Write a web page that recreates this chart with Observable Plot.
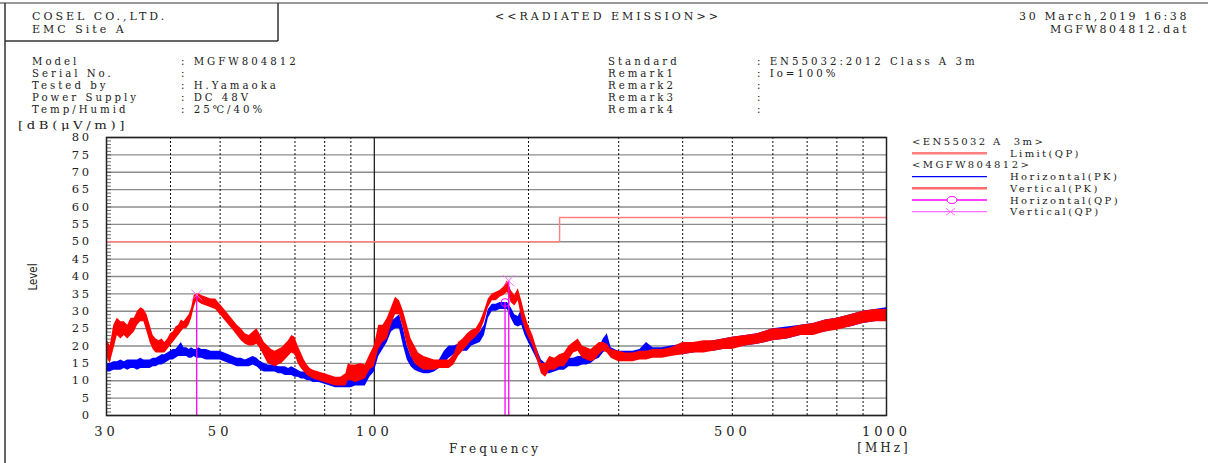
<!DOCTYPE html>
<html><head><meta charset="utf-8">
<script src="https://cdn.jsdelivr.net/npm/d3@7"></script>
<script src="https://cdn.jsdelivr.net/npm/@observablehq/plot@0.6"></script>
<style>
html,body{margin:0;padding:0;background:#fff;}
#chart{position:relative;width:1208px;height:463px;overflow:hidden;}
</style></head><body><div id="chart"></div>
<script>
// ---------- data ----------
const freqMHz = [
  30, 30.5, 31, 31.5, 32, 32.5, 33, 33.5, 34, 34.5,
  35, 35.5, 36, 36.5, 37, 37.5, 38, 38.5, 39, 39.5,
  40, 40.5, 41, 41.5, 42, 42.5, 43, 43.5, 44, 44.5,
  45, 45.5, 46, 47, 48, 49, 50, 51, 52, 53,
  54, 55, 56, 57, 58, 59, 60, 61, 62, 63,
  64, 65, 66, 67, 68, 69, 70, 71, 72, 73,
  74, 75, 76, 78, 80, 82, 84, 86, 88, 89,
  90, 92, 94, 96, 98, 100, 102, 104, 106, 108,
  110, 112, 114, 116, 118, 120, 122, 125, 128, 131,
  134, 137, 140, 143, 146, 149, 152, 155, 158, 161,
  164, 167, 170, 173, 176, 179, 182, 185, 188, 191,
  194, 197, 200, 204, 208, 212, 216, 220, 225, 230,
  235, 240, 245, 250, 255, 260, 265, 270, 275, 280,
  285, 290, 300, 310, 320, 330, 340, 350, 365, 380,
  400, 420, 440, 460, 480, 500, 530, 560, 600, 640,
  680, 720, 760, 800, 850, 900, 950, 1000
];
// Vertical(PK) trace: lower / upper edge of the noisy trace, dB(uV/m)
const vertPkLow = [
  17, 15, 19, 23, 22, 23, 22, 23, 24, 26,
  27, 27, 24, 21, 19, 18, 18, 18, 18, 19,
  20, 21, 22, 23, 24, 25, 25, 26, 28, 31,
  33, 32.5, 32, 31.5, 31, 30.5, 29, 27.5, 26, 24.5,
  23, 21.5, 20.5, 20, 20, 20.5, 19, 17, 15, 14.5,
  14, 14.5, 15, 16, 17, 18, 17.5, 15, 13.5, 12.5,
  11.5, 11, 10.5, 10, 9.5, 9, 8.5, 8.5, 8.5, 10,
  10, 9.5, 10, 10.5, 13, 14, 19, 21, 22, 26,
  29, 29, 25, 20, 17, 15, 14, 13, 13, 13,
  13.5, 13.5, 13.5, 14.5, 17, 18.5, 20, 21.5, 22.5, 24,
  27, 31, 33, 33, 34, 34.5, 35.5, 32.5, 31.5, 33,
  28, 25, 22.5, 20, 16, 12, 11, 13, 13, 14,
  14, 16, 18, 18.5, 16.5, 16, 15.5, 16, 17.5, 18.5,
  18, 16.5, 15.5, 15.5, 15.5, 16, 16, 16.5, 16.5, 17,
  17.5, 18, 18, 18.5, 19, 19, 20, 20.5, 21.5, 22,
  23, 23, 24, 24.5, 25.5, 26.5, 27, 27
];
const vertPkHigh = [
  22, 20, 26, 28, 27, 27, 26, 28, 28, 30,
  31, 30.5, 29, 26, 23, 22, 21.5, 22, 21, 22,
  23.5, 24, 25.5, 26, 27.5, 27, 28, 29, 31, 34.5,
  35, 35, 34.5, 34, 33.5, 33.5, 32, 30.5, 29, 27.5,
  26, 25, 23.5, 23, 24, 25, 23, 21, 20, 19,
  18.5, 19, 19.5, 20.5, 21.5, 23, 22.5, 20, 18, 16,
  14.5, 13.5, 13, 12.5, 12, 11.5, 11, 11, 12, 15,
  14.5, 14.5, 15, 14.5, 17.5, 20, 26, 26, 28, 31,
  34, 33, 30, 26, 22, 20, 18, 17, 16.5, 16,
  16, 16, 16, 17.5, 21, 22, 23.5, 24.5, 25, 27,
  30, 33.5, 35, 35.5, 36, 37, 38.8, 36, 34.5, 36.5,
  33, 29, 26, 23, 19, 15, 15, 17, 16.5, 17.5,
  18, 20, 21, 22, 20, 19.5, 19, 20, 21, 21,
  20.5, 19, 18.5, 18, 18, 18.5, 18.5, 19, 19, 19.5,
  21, 21, 21.5, 21.5, 22, 22.5, 23, 23.5, 25, 25,
  26, 26.5, 27.5, 28, 29, 30, 30.5, 30.5
];
// Horizontal(PK) trace
const horizPkLow = [
  12.5, 12.5, 13, 13, 13, 13.5, 13, 13.5, 13.5, 13,
  13.5, 13.5, 13.5, 13.5, 14, 14, 14.5, 14.5, 15, 15.5,
  16, 16, 16.5, 17, 17, 17, 17, 16.5, 16.5, 17,
  16.5, 16.5, 16.5, 16, 16, 16, 16, 15.5, 15, 14.5,
  14, 14, 14, 14, 14.5, 14, 13, 12.5, 12.5, 12.5,
  12.5, 12, 12, 11.5, 11.5, 11.5, 11, 11, 10.5, 10.5,
  10, 10, 9.5, 9.5, 9, 8.5, 8, 8, 8, 8,
  8, 8.5, 8.5, 8.5, 11, 12.5, 17, 19, 21, 24,
  25, 25, 20, 16, 14, 13, 12.5, 12, 12, 12.5,
  13.5, 15, 16.5, 17.5, 18, 18.5, 18.5, 20, 20.5, 21,
  23, 28, 30, 30, 30.5, 30.5, 30.5, 28, 26, 25.5,
  26, 23, 21, 18.5, 16, 13, 12, 12, 12.5, 13,
  13, 14, 14, 14, 14.5, 14.5, 15, 16, 16.5, 18,
  19, 17, 16, 16, 16, 16.5, 17, 17, 17, 17.5,
  17.5, 18, 18.5, 18.5, 19, 19.5, 20, 20.5, 21.5, 22,
  23, 23.5, 24, 25, 25.5, 26.5, 27, 27.5
];
const horizPkHigh = [
  15, 15, 15.5, 15.5, 16, 15.5, 16, 16, 16, 16,
  16.5, 16, 16, 16, 16.5, 16.5, 17, 17.5, 17.5, 18,
  18.5, 19, 19, 20, 21, 19.5, 19.5, 19, 19.5, 19,
  19, 19.5, 19, 19, 18.5, 18.5, 18.5, 18, 17.5, 17,
  16.5, 16.5, 16, 16.5, 17, 16.5, 15.5, 15, 14.5, 14.5,
  14.5, 14, 14, 14, 13.5, 14, 13.5, 13, 12.5, 12.5,
  12, 12, 11.5, 11.5, 11, 10.5, 10, 10, 10, 10.5,
  11, 11, 11, 11.5, 14, 16, 22, 24, 25.5, 27,
  28, 29, 25, 20, 17, 16, 15.5, 15, 14.5, 15,
  16, 18.5, 20, 20, 20.5, 21, 21, 22.5, 23, 24,
  26, 30.5, 32, 32, 32.5, 32.5, 32.5, 31, 29, 28.5,
  30.5, 26, 24, 21.5, 19, 16, 15, 15, 15, 15.5,
  15.5, 16.5, 16.5, 17, 17, 17.5, 18, 19, 19.5, 22,
  23.5, 19.5, 18.5, 18.5, 18.5, 19, 21, 19.5, 19.5, 20,
  20.5, 21, 21, 21.5, 22, 22.5, 23, 23.5, 25, 25.5,
  26, 26.5, 27.5, 28, 29, 30, 30.5, 31
];
// Limit line EN55032 Class A 3m (QP)
const limitFreq = [30, 230, 230, 1000];
const limitLevel = [50, 50, 57, 57];
// Quasi-peak readings
const qpHorizFreq = [180];
const qpHorizLevel = [32.5];
const qpVertFreq = [45, 183];
const qpVertLevel = [34.7, 38.8];
// Axes
const xTicks = [30, 50, 100, 500, 1000];
const yTicks = [0, 5, 10, 15, 20, 25, 30, 35, 40, 45, 50, 55, 60, 65, 70, 75, 80];
const yMinor = Array.from({length: 81}, (_, i) => i);
const xGridDotted = [40, 50, 60, 70, 80, 90, 200, 300, 400, 500, 600, 700, 800, 900];
const xGridSolid = [100];
// Texts
const headerLeft = ["COSEL CO.,LTD.", "EMC Site A"];
const headerTitle = "<<RADIATED EMISSION>>";
const headerRight = ["30 March,2019 16:38", "MGFW804812.dat"];
const infoLabelsL = ["Model", "Serial No.", "Tested by", "Power Supply", "Temp/Humid"];
const infoValuesL = [": MGFW804812", ":", ": H.Yamaoka", ": DC 48V", ": 25\u2103/40%"];
const infoLabelsR = ["Standard", "Remark1", "Remark2", "Remark3", "Remark4"];
const infoValuesR = [": EN55032:2012 Class A 3m", ": Io=100%", ":", ":", ":"];
const legendGroup1 = "<EN55032 A  3m>";
const legendGroup2 = "<MGFW804812>";
const legendNames = ["Limit(QP)", "Horizontal(PK)", "Vertical(PK)", "Horizontal(QP)", "Vertical(QP)"];

// ---------- build tables ----------
const vertPk = freqMHz.map((f, i) => ({f, lo: vertPkLow[i], hi: vertPkHigh[i]}));
const horizPk = freqMHz.map((f, i) => ({f, lo: horizPkLow[i], hi: horizPkHigh[i]}));
const limit = limitFreq.map((f, i) => ({f, v: limitLevel[i]}));
const qpH = qpHorizFreq.map((f, i) => ({f, v: qpHorizLevel[i]}));
const qpV = qpVertFreq.map((f, i) => ({f, v: qpVertLevel[i]}));

const W = 1208, H = 463;
const FONT = '"DejaVu Serif", "Liberation Serif", serif';
const RED = "#ff0000", BLUE = "#0000ff", LIMIT = "#ff8080", MAG = "#ff00ff", MAG2 = "#ff70ff";

const chart = Plot.plot({
  width: W, height: H,
  marginLeft: 106, marginRight: W - 886, marginTop: 137, marginBottom: H - 415,
  style: {fontFamily: FONT, background: "#fff", color: "#222"},
  x: {type: "log", domain: [30, 1000]},
  y: {domain: [0, 80]},
  marks: [
    Plot.ruleY(yTicks, {stroke: "#8c8c8c", strokeWidth: 1.4}),
    Plot.ruleX(xGridDotted, {stroke: "#111", strokeWidth: 1, strokeDasharray: "2,2"}),
    Plot.ruleX(xGridSolid, {stroke: "#111", strokeWidth: 1.2}),
    Plot.tickY(yMinor, {y: d => d, stroke: "#444", strokeWidth: 0.8, insetRight: 775}),
    Plot.areaY(horizPk, {x: "f", y1: "lo", y2: "hi", fill: BLUE}),
    Plot.areaY(vertPk, {x: "f", y1: "lo", y2: "hi", fill: RED}),
    Plot.line(limit, {x: "f", y: "v", stroke: LIMIT, strokeWidth: 1.4}),
    Plot.ruleX(qpH, {x: "f", y1: 0, y2: "v", stroke: MAG, strokeWidth: 1.3}),
    Plot.ruleX(qpV, {x: "f", y1: 0, y2: "v", stroke: MAG, strokeWidth: 1.3}),
    Plot.dot(qpH, {x: "f", y: "v", r: 4, stroke: MAG, fill: "none", strokeWidth: 1}),
    Plot.dot(qpV, {x: "f", y: "v", symbol: "times", r: 5, stroke: MAG2, strokeWidth: 1}),
    Plot.frame({stroke: "#222", strokeWidth: 1.5}),
    Plot.axisX(xTicks, {tickSize: 0, tickPadding: 11, fontSize: 13, label: null, tickFormat: d => String(d)}),
    Plot.axisY(yTicks, {tickSize: 0, tickPadding: 15, fontSize: 11.5, label: null, tickFormat: d => String(d)})
  ]
});
document.getElementById("chart").appendChild(chart);

const svg = d3.select(chart);
svg.selectAll('[aria-label="x-axis tick label"]').attr("letter-spacing", "4px").attr("fill", "#222");
svg.selectAll('[aria-label="y-axis tick label"]').attr("letter-spacing", "2.5px").attr("fill", "#222");

const deco = svg.append("g");
function txt(x, y, s, o = {}) {
  const t = deco.append("text")
    .attr("x", x).attr("y", y).text(s)
    .attr("font-family", FONT)
    .attr("font-size", o.size || 10.2)
    .attr("letter-spacing", (o.ls != null ? o.ls : 3) + "px")
    .attr("text-anchor", o.anchor || "start")
    .attr("fill", o.fill || "#222");
  if (o.len) t.attr("textLength", o.len).attr("lengthAdjust", "spacingAndGlyphs");
  return t;
}
function line(x1, y1, x2, y2, stroke, w) {
  deco.append("line").attr("x1", x1).attr("y1", y1).attr("x2", x2).attr("y2", y2)
    .attr("stroke", stroke).attr("stroke-width", w);
}

// page frame & header box
line(0, 3, W, 3, "#999", 2);
line(5, 3, 5, H, "#333", 1.5);
line(278, 3, 278, 41, "#333", 1.5);
line(5, 41, 278, 41, "#333", 1.5);

const HS = {size: 11, ls: 3};
txt(32, 19.5, headerLeft[0], HS);
txt(32, 32.5, headerLeft[1], HS);
txt(608, 19.5, headerTitle, {...HS, anchor: "middle"});
txt(1189, 19.5, headerRight[0], {...HS, ls: 2.6, anchor: "end"});
txt(1189, 32.5, headerRight[1], {...HS, ls: 2.6, anchor: "end"});

const rowY = [65, 77, 89, 101, 113];
infoLabelsL.forEach((s, i) => txt(32, rowY[i], s));
infoValuesL.forEach((s, i) => txt(181, rowY[i], s));
infoLabelsR.forEach((s, i) => txt(608, rowY[i], s));
infoValuesR.forEach((s, i) => txt(757, rowY[i], s));

txt(18, 129, "[dB(\u03bcV/m)]", {size: 11, len: 110});

// y axis title
deco.append("text").text("Level")
  .attr("transform", "translate(37,277) rotate(-90)")
  .attr("text-anchor", "middle")
  .attr("font-family", '"Liberation Sans Narrow", "DejaVu Sans Condensed", sans-serif')
  .attr("font-size", 13).attr("fill", "#222")
  .attr("textLength", 27).attr("lengthAdjust", "spacingAndGlyphs");

txt(495, 453, "Frequency", {size: 12, ls: 3, anchor: "middle"});
txt(884, 452, "[MHz]", {size: 12, ls: 3, anchor: "middle"});

// legend
const LX1 = 912, LX2 = 987, LT = 1010, LS = {size: 10, ls: 2.4};
const LR = [145, 156.7, 168.4, 180.1, 191.8, 203.5, 215.2];
txt(LX1, LR[0], legendGroup1, LS);
line(LX1, LR[1] - 3.5, LX2, LR[1] - 3.5, LIMIT, 2.5);
txt(LT, LR[1], legendNames[0], LS);
txt(LX1, LR[2], legendGroup2, LS);
line(LX1, LR[3] - 3.5, LX2, LR[3] - 3.5, BLUE, 1.3);
txt(LT, LR[3], legendNames[1], LS);
line(LX1, LR[4] - 3.5, LX2, LR[4] - 3.5, "#ff6a6a", 2.5);
txt(LT, LR[4], legendNames[2], LS);
line(LX1, LR[5] - 3.5, LX2, LR[5] - 3.5, MAG, 1.3);
deco.append("ellipse").attr("cx", 952).attr("cy", LR[5] - 3.5).attr("rx", 5).attr("ry", 3.5)
  .attr("fill", "#fff").attr("stroke", MAG).attr("stroke-width", 1);
txt(LT, LR[5], legendNames[3], LS);
const vy = LR[6] - 3.5;
line(LX1, vy, LX2, vy, MAG2, 1.3);
deco.append("path").attr("d", `M946,${vy - 3.5}L955,${vy + 3.5}M946,${vy + 3.5}L955,${vy - 3.5}`)
  .attr("stroke", MAG2).attr("stroke-width", 1).attr("fill", "none");
txt(LT, LR[6], legendNames[4], LS);
</script></body></html>
